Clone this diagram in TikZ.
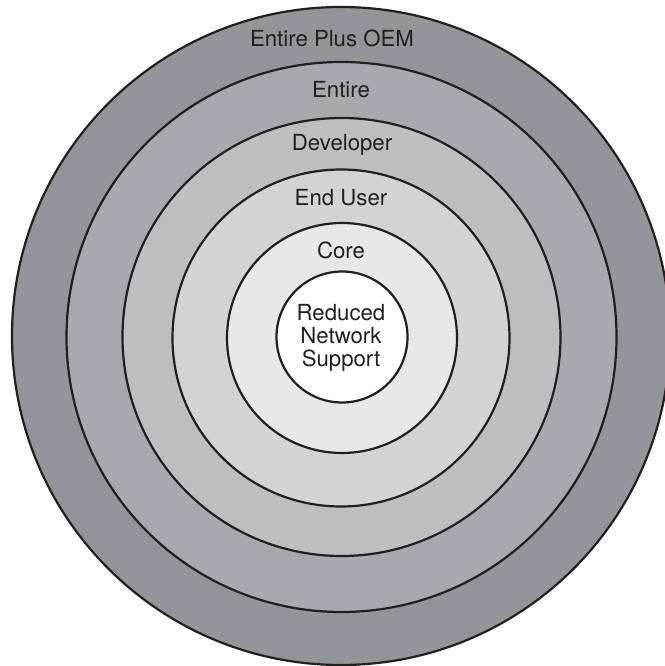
\documentclass[tikz,border=0pt]{standalone}
\usepackage{fontspec}
\setmainfont{TeX Gyre Heros}
\definecolor{g1}{HTML}{939598}
\definecolor{g2}{HTML}{A7A9AC}
\definecolor{g3}{HTML}{BCBEC0}
\definecolor{g4}{HTML}{D1D3D4}
\definecolor{g5}{HTML}{E6E7E8}
\definecolor{ink}{HTML}{231F20}
\tikzset{
  ring/.style={circle, draw=ink, line width=2.2pt, inner sep=0pt, outer sep=0pt, minimum size=#1},
  lbl/.style={anchor=base, text=ink, font=\fontsize{22.2}{24}\selectfont, inner sep=0pt},
}
\begin{document}
\begin{tikzpicture}[x=1pt, y=-1pt]
\useasboundingbox (0,0) rectangle (664,666);
\fill[white] (0,0) rectangle (664,666);
\node[ring=658pt, fill=g1] (c1) at (341,336) {};
\node[ring=550pt, fill=g2] (c2) at (341.5,337) {};
\node[ring=438pt, fill=g3] (c3) at (341.5,337) {};
\node[ring=337pt, fill=g4] (c4) at (341,338) {};
\node[ring=230pt, fill=g5] (c5) at (342,338) {};
\node[ring=131pt, fill=white] (c6) at (342,337) {};
\node[lbl] (t1) at (332,47) {Entire Plus OEM};
\node[lbl] (t2) at (341,98) {Entire};
\node[lbl] (t3) at (342,150) {Developer};
\node[lbl] (t4) at (341,205) {End User};
\node[lbl] (t5) at (341,258) {Core};
\node[lbl] (t6a) at (341,320) {Reduced};
\node[lbl] (t6b) at (341,343) {Network};
\node[lbl] (t6c) at (341,366) {Support};
\end{tikzpicture}
\end{document}
